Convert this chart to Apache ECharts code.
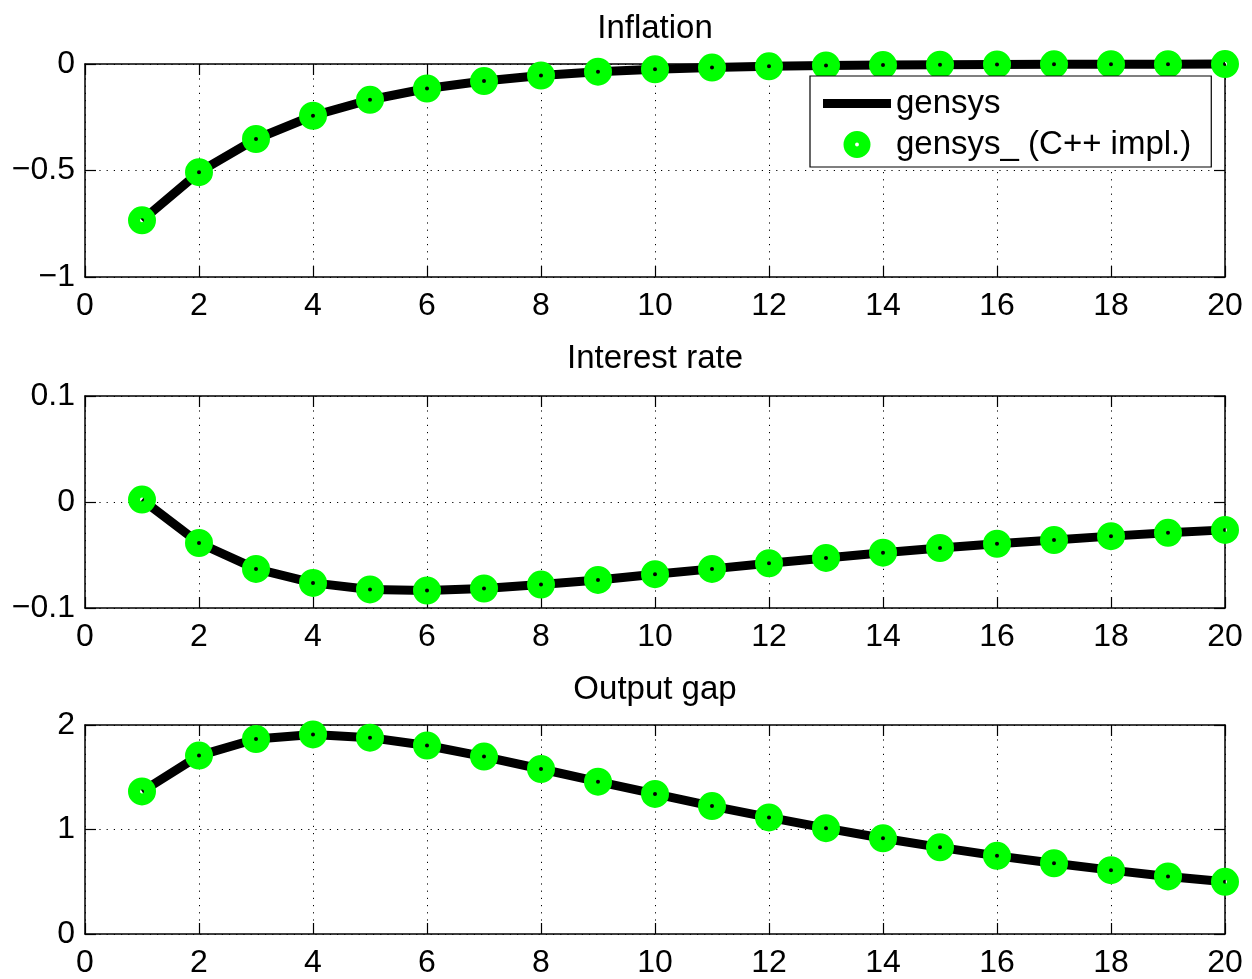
<!DOCTYPE html>
<html>
<head>
<meta charset="utf-8">
<script src="https://cdn.jsdelivr.net/npm/echarts@6/dist/echarts.min.js"></script>
<style>
html,body{margin:0;padding:0;background:#fff;}
#chart{width:1252px;height:979px;}
</style>
</head>
<body>
<div id="chart"></div>
<script>
// ---- data ----
const periods = [1,2,3,4,5,6,7,8,9,10,11,12,13,14,15,16,17,18,19,20];
const inflation = [-0.734,-0.508,-0.352,-0.243,-0.168,-0.115,-0.080,-0.054,-0.036,-0.025,-0.017,-0.011,-0.007,-0.005,-0.003,-0.002,-0.0015,-0.001,-0.0007,-0.0005];
const interestRate = [0.0023,-0.0387,-0.0631,-0.0763,-0.0825,-0.0835,-0.0816,-0.0779,-0.0735,-0.0681,-0.0631,-0.0578,-0.0528,-0.0478,-0.0434,-0.0394,-0.0359,-0.0322,-0.0291,-0.0263];
const outputGap = [1.364,1.707,1.866,1.910,1.879,1.804,1.698,1.579,1.458,1.340,1.224,1.116,1.013,0.916,0.829,0.748,0.677,0.611,0.551,0.499];
const panelTitles = ['Inflation','Interest rate','Output gap'];
const xTicks = [0,2,4,6,8,10,12,14,16,18,20];
const yTicksInflation = [-1,-0.5,0];
const yTicksInterest = [-0.1,0,0.1];
const yTicksOutput = [0,1,2];
const seriesNames = ['gensys','gensys_ (C++ impl.)'];

// ---- layout ----
const FONT = '"Liberation Sans", Arial, Helvetica, sans-serif';
const panels = [
  {top:64, height:213, titleTop:12, data:inflation, ticks:yTicksInflation},
  {top:396, height:212, titleTop:342, data:interestRate, ticks:yTicksInterest},
  {top:725, height:214, titleTop:673, data:outputGap, ticks:yTicksOutput}
];
const GL = 85, GR = 27;

function fmt(v){
  let s = String(Math.round(v*1000)/1000);
  return s.replace('-', '\u2212');
}

const grid = [], xAxis = [], yAxis = [], series = [], title = [];
const axisLine = {show:true, onZero:false, lineStyle:{color:'#000', width:1.5}};
const tick = {show:true, inside:true, length:11, lineStyle:{color:'#000', width:1.2}};
const split = {show:true, lineStyle:{color:'#000', width:1, type:[1.2,6]}};

panels.forEach((p, i) => {
  grid.push({left:GL, right:GR, top:p.top, height:p.height, containLabel:false});
  title.push({
    text: panelTitles[i], left: 655, top: p.titleTop, textAlign:'center', padding:0,
    textStyle:{fontFamily:FONT, fontSize:33, fontWeight:'normal', color:'#000'}
  });
  const xmin = xTicks[0], xmax = xTicks[xTicks.length-1], xint = xTicks[1]-xTicks[0];
  const ymin = p.ticks[0], ymax = p.ticks[p.ticks.length-1], yint = p.ticks[1]-p.ticks[0];
  xAxis.push({
    gridIndex:i, type:'value', position:'bottom', min:xmin, max:xmax, interval:xint,
    axisLine:axisLine, axisTick:tick, splitLine:split,
    axisLabel:{fontFamily:FONT, fontSize:32, color:'#000', margin:13, formatter:fmt, hideOverlap:false, showMinLabel:true, showMaxLabel:true}
  });
  xAxis.push({
    gridIndex:i, type:'value', position:'top', min:xmin, max:xmax, interval:xint,
    axisLine:axisLine, axisTick:tick, splitLine:{show:false}, axisLabel:{show:false}
  });
  yAxis.push({
    gridIndex:i, type:'value', position:'left', min:ymin, max:ymax, interval:yint,
    axisLine:axisLine, axisTick:tick, splitLine:split,
    axisLabel:{fontFamily:FONT, fontSize:32, color:'#000', margin:10, formatter:fmt, showMinLabel:true, showMaxLabel:true}
  });
  yAxis.push({
    gridIndex:i, type:'value', position:'right', min:ymin, max:ymax, interval:yint,
    axisLine:axisLine, axisTick:tick, splitLine:{show:false}, axisLabel:{show:false}
  });
  const pts = periods.map((x, k) => [x, p.data[k]]);
  series.push({
    name: seriesNames[0], type:'line', xAxisIndex:2*i, yAxisIndex:2*i, data:pts,
    color:'#000', showSymbol:false, symbol:'none', clip:false, z:3,
    lineStyle:{color:'#000', width:9, join:'round'}, emphasis:{disabled:true}, silent:true
  });
  series.push({
    name: seriesNames[1], type:'scatter', xAxisIndex:2*i, yAxisIndex:2*i, data:pts,
    symbol:'circle', symbolSize:16, clip:false, z:4,
    itemStyle:{color:'rgba(0,0,0,0)', borderColor:'#00ff00', borderWidth:12, opacity:1},
    emphasis:{disabled:true}, silent:true
  });
});

const option = {
  animation:false,
  backgroundColor:'#fff',
  title: title,
  grid: grid,
  xAxis: xAxis,
  yAxis: yAxis,
  legend: {
    orient:'vertical', left:810, top:76, z:10,
    backgroundColor:'#fff', borderColor:'#000', borderWidth:1.2, borderRadius:0,
    padding:[11,20,6,13], itemGap:8, itemWidth:68, itemHeight:27,
    selectedMode:false,
    textStyle:{fontFamily:FONT, fontSize:33, color:'#000'},
    data:[
      {name:seriesNames[0], icon:'path://M0,0 M0,27 M0,9 L68,9 L68,18 L0,18 Z', itemStyle:{color:'#000', borderWidth:0, opacity:1}},
      {name:seriesNames[1], icon:'path://M0,-14 A14,14 0 1,1 0,14 A14,14 0 1,1 0,-14 Z M0,-2 A2,2 0 1,0 0,2 A2,2 0 1,0 0,-2 Z', itemStyle:{color:'#00ff00', borderWidth:0, opacity:1}}
    ]
  },
  series: series
};

const chart = echarts.init(document.getElementById('chart'), null, {renderer:'canvas'});
chart.setOption(option);
</script>
</body>
</html>
